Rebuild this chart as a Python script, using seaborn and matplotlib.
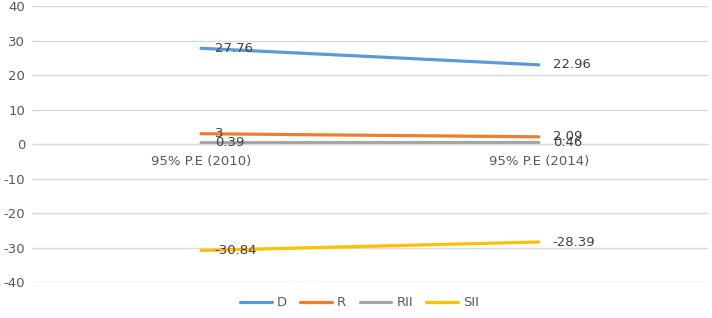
import matplotlib
matplotlib.use("Agg")
import matplotlib.pyplot as plt
import seaborn as sns
import pandas as pd

categories = ["95% P.E (2010)", "95% P.E (2014)"]
series_names = ["D", "R", "RII", "SII"]
d_values = [27.76, 22.96]
r_values = [3, 2.09]
rii_values = [0.39, 0.46]
sii_values = [-30.84, -28.39]
y_ticks = [-40, -30, -20, -10, 0, 10, 20, 30, 40]

colors = ["#5B9BD5", "#ED7D31", "#A5A5A5", "#FFC000"]

rows = []
for name, vals in zip(series_names, [d_values, r_values, rii_values, sii_values]):
    for cat, v in zip(categories, vals):
        rows.append({"category": cat, "value": v, "series": name})
df = pd.DataFrame(rows)

sns.set_style("white")
plt.rcParams["font.family"] = ["DejaVu Sans"]
plt.rcParams["axes.unicode_minus"] = False

fig = plt.figure(figsize=(7.12, 3.18), dpi=100)
ax = fig.add_axes([0.045, 0.113, 0.949, 0.868])

sns.lineplot(data=df, x="category", y="value", hue="series", palette=colors,
             linewidth=2.3, ax=ax, sort=False, legend=True)

for name, vals in zip(series_names, [d_values, r_values, rii_values, sii_values]):
    for i, v in enumerate(vals):
        ax.annotate(f"{v:g}", xy=(i, v), xytext=(10, 0), textcoords="offset points",
                    ha="left", va="center", fontsize=9.5, color="#404040")

ax.set_xlim(-0.5, 1.5)
ax.set_ylim(-40, 40)
ax.set_yticks(y_ticks)
ax.yaxis.grid(True, color="#D9D9D9", linewidth=1)
ax.set_axisbelow(True)
for s in ["top", "right", "left"]:
    ax.spines[s].set_visible(False)
ax.spines["bottom"].set_position(("data", 0))
ax.spines["bottom"].set_color("#D9D9D9")
ax.tick_params(axis="both", length=0, labelsize=9.5, labelcolor="#595959")
ax.tick_params(axis="x", pad=8)
ax.tick_params(axis="y", pad=5)
ax.set_xlabel("")
ax.set_ylabel("")

handles, labels = ax.get_legend_handles_labels()
ax.get_legend().remove()
fig.legend(handles, labels, loc="lower center", bbox_to_anchor=(0.505, -0.01), ncol=4,
           frameon=False, fontsize=9.5, handlelength=2.4, columnspacing=1.0,
           handletextpad=0.4, labelcolor="#595959")

fig.savefig("out.png", dpi=100)
